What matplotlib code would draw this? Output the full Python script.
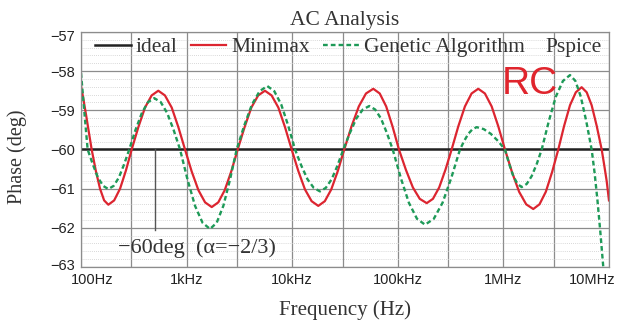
import numpy as np
import matplotlib.pyplot as plt
from matplotlib.ticker import FixedLocator, MultipleLocator, NullFormatter
from matplotlib.transforms import ScaledTranslation

# ---- data (frequency as log10 Hz, phase in deg) ----
ideal_phase = -60.0

logf_minimax = [2.000, 2.025, 2.050, 2.075, 2.101, 2.140, 2.180, 2.219, 2.259, 2.314, 2.370, 2.425,
                2.480, 2.543, 2.606, 2.669, 2.732, 2.795, 2.859, 2.922, 2.985, 3.048, 3.112, 3.175,
                3.238, 3.300, 3.361, 3.423, 3.484, 3.549, 3.613, 3.678, 3.742, 3.805, 3.869, 3.932,
                3.995, 4.058, 4.121, 4.184, 4.247, 4.309, 4.370, 4.432, 4.493, 4.562, 4.631, 4.699,
                4.768, 4.829, 4.890, 4.950, 5.011, 5.077, 5.143, 5.208, 5.274, 5.333, 5.392, 5.451,
                5.510, 5.573, 5.636, 5.699, 5.762, 5.825, 5.889, 5.952, 6.015, 6.082, 6.149, 6.216,
                6.283, 6.342, 6.402, 6.461, 6.520, 6.575, 6.631, 6.686, 6.741, 6.789, 6.836, 6.884,
                6.931, 6.955, 6.978, 7.000]
p_minimax = [-58.38, -58.75, -59.15, -59.57, -60.00, -60.54, -61.00, -61.30, -61.41, -61.30, -61.00, -60.54,
             -60.00, -59.43, -58.93, -58.62, -58.50, -58.62, -58.93, -59.43, -60.00, -60.56, -61.04, -61.35,
             -61.47, -61.35, -61.04, -60.56, -60.00, -59.43, -58.93, -58.62, -58.50, -58.62, -58.93, -59.43,
             -60.00, -60.55, -61.02, -61.32, -61.44, -61.32, -61.02, -60.55, -60.00, -59.41, -58.90, -58.57,
             -58.45, -58.57, -58.90, -59.41, -60.00, -60.52, -60.97, -61.26, -61.37, -61.26, -60.97, -60.52,
             -60.00, -59.41, -58.90, -58.57, -58.45, -58.57, -58.90, -59.41, -60.00, -60.58, -61.08, -61.40,
             -61.52, -61.40, -61.08, -60.58, -60.00, -59.40, -58.87, -58.54, -58.41, -58.54, -58.87, -59.40,
             -60.00, -60.40, -60.80, -61.30]

logf_genetic = [2.000, 2.016, 2.032, 2.048, 2.063, 2.112, 2.161, 2.210, 2.259, 2.309, 2.358, 2.408,
                2.457, 2.516, 2.576, 2.635, 2.694, 2.755, 2.816, 2.877, 2.938, 3.009, 3.080, 3.151,
                3.222, 3.285, 3.348, 3.411, 3.474, 3.547, 3.619, 3.692, 3.764, 3.830, 3.896, 3.961,
                4.027, 4.086, 4.145, 4.204, 4.263, 4.318, 4.374, 4.429, 4.484, 4.546, 4.607, 4.669,
                4.730, 4.786, 4.841, 4.897, 4.952, 5.029, 5.105, 5.182, 5.258, 5.341, 5.424, 5.506,
                5.589, 5.629, 5.668, 5.708, 5.747, 5.814, 5.881, 5.948, 6.015, 6.055, 6.094, 6.134,
                6.173, 6.221, 6.268, 6.316, 6.363, 6.430, 6.497, 6.564, 6.631, 6.682, 6.733, 6.785,
                6.836, 6.864, 6.891, 6.918, 6.946, 6.975]
p_genetic = [-58.05, -58.55, -59.05, -59.55, -60.00, -60.38, -60.72, -60.93, -61.01, -60.93, -60.72, -60.38,
             -60.00, -59.50, -59.07, -58.79, -58.69, -58.79, -59.07, -59.50, -60.00, -60.77, -61.44, -61.87,
             -62.03, -61.87, -61.44, -60.77, -60.00, -59.38, -58.85, -58.51, -58.38, -58.51, -58.85, -59.38,
             -60.00, -60.41, -60.76, -60.98, -61.07, -60.98, -60.76, -60.41, -60.00, -59.58, -59.21, -58.98,
             -58.89, -58.98, -59.21, -59.58, -60.00, -60.73, -61.36, -61.77, -61.92, -61.77, -61.36, -60.73,
             -60.00, -59.78, -59.60, -59.48, -59.43, -59.48, -59.60, -59.78, -60.00, -60.37, -60.68, -60.88,
             -60.96, -60.88, -60.68, -60.37, -60.00, -59.28, -58.65, -58.25, -58.10, -58.25, -58.65, -59.28,
             -60.00, -60.60, -61.30, -62.10, -63.00, -63.80]

xticks = [1e2, 1e3, 1e4, 1e5, 1e6, 1e7]
xticklabels = ['100Hz', '1kHz', '10kHz', '100kHz', '1MHz', '10MHz']
xgrid_extra = [300, 3e3, 3e4, 3e5, 3e6]
yticks = [-57, -58, -59, -60, -61, -62, -63]

marker_f = 500
marker_lo = -62.05

RED = '#dc2530'
GREEN = '#1e9a58'
GRID = '#8c8c8c'
TXT = '#333333'

serif = ['Liberation Serif', 'DejaVu Serif']
sans = ['Liberation Sans', 'DejaVu Sans']

f_minimax = np.power(10.0, logf_minimax)
f_genetic = np.power(10.0, logf_genetic)

fig = plt.figure(figsize=(6.26, 3.25), dpi=100)
ax = fig.add_axes([0.1294, 0.1785, 0.8434, 0.7231])

ax.set_xscale('log')
ax.set_xlim(1e2, 1e7)
ax.set_ylim(-63, -57)

# grid
ax.xaxis.set_major_locator(FixedLocator(xticks))
ax.xaxis.set_minor_locator(FixedLocator(xgrid_extra))
ax.xaxis.set_minor_formatter(NullFormatter())
ax.set_xticklabels(xticklabels, fontfamily=sans, fontsize=10.5)
ax.yaxis.set_major_locator(FixedLocator(yticks))
ax.yaxis.set_minor_locator(MultipleLocator(0.2))
ax.set_yticklabels(['\u2212%d' % abs(v) for v in yticks], fontfamily=sans, fontsize=10.5)
ax.grid(True, which='major', color=GRID, lw=0.9)
ax.grid(True, which='minor', axis='x', color=GRID, lw=0.9)
ax.grid(True, which='minor', axis='y', color='#cccccc', lw=0.6, ls=(0, (1, 1.5)))
ax.tick_params(which='both', length=0, pad=4, colors='#222222')
for s in ax.spines.values():
    s.set_color(GRID)
    s.set_linewidth(0.9)

# end labels nudged inside the plot, like the original
labs = ax.get_xticklabels()
labs[0].set_transform(labs[0].get_transform() + ScaledTranslation(0.11, 0, fig.dpi_scale_trans))
labs[-1].set_transform(labs[-1].get_transform() + ScaledTranslation(-0.17, 0, fig.dpi_scale_trans))
ylabs = ax.get_yticklabels()
ylabs[0].set_transform(ylabs[0].get_transform() + ScaledTranslation(0, -0.04, fig.dpi_scale_trans))
ylabs[-1].set_transform(ylabs[-1].get_transform() + ScaledTranslation(0, 0.02, fig.dpi_scale_trans))

ax.axhline(ideal_phase, color='#222222', lw=1.8, label='ideal')
ax.plot(f_minimax, p_minimax, color=RED, lw=1.6, label='Minimax')
ax.plot(f_genetic, p_genetic, color=GREEN, lw=1.7, ls=(0, (2, 1.3)), label='Genetic Algorithm')

ax.plot([marker_f, marker_f], [ideal_phase, marker_lo], color='#555555', lw=1.0)
ax.text(0.22, 0.081, '\u221260deg  (\u03b1=\u22122/3)', transform=ax.transAxes,
        ha='center', va='center', fontfamily=serif, fontsize=16, color=TXT)

leg = ax.legend(loc='center left', ncol=3, frameon=False, prop={'family': serif, 'size': 15.5},
                handlelength=1.65, handletextpad=0.25, columnspacing=0.6,
                bbox_to_anchor=(0.0265, 0.936), borderaxespad=0, borderpad=0)
for t in leg.get_texts():
    t.set_color(TXT)

ax.text(0.987, 0.932, 'Pspice', transform=ax.transAxes, ha='right', va='center',
        fontfamily=serif, fontsize=15.5, color=TXT)
ax.text(0.85, 0.78, 'RC', transform=ax.transAxes, ha='center', va='center',
        fontfamily=sans, fontsize=28, color='#e0252d')

ax.set_title('AC Analysis', fontfamily=serif, fontsize=15.5, color=TXT, pad=5)
ax.set_xlabel('Frequency (Hz)', fontfamily=serif, fontsize=15, color=TXT, labelpad=10)
ax.set_ylabel('Phase (deg)', fontfamily=serif, fontsize=14.5, color=TXT)
ax.yaxis.set_label_coords(-0.102, 0.468)

fig.savefig('out.png', dpi=100)
